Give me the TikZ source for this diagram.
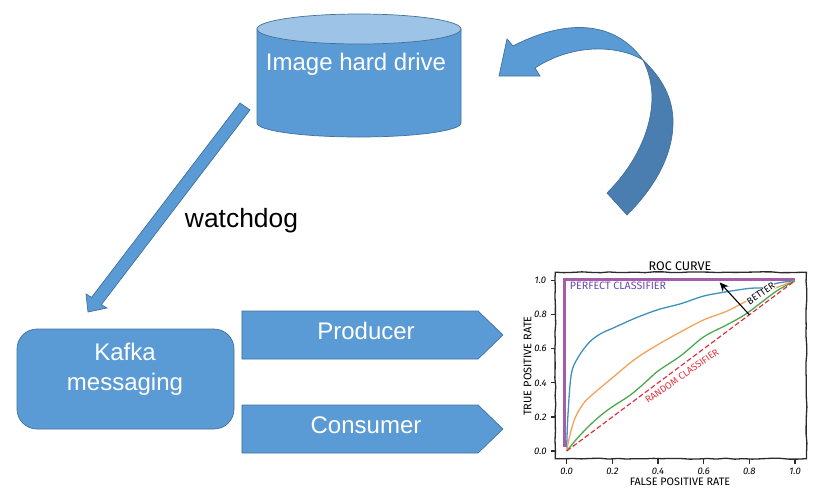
\documentclass[tikz,border=0pt]{standalone}
\usepackage{fontspec}
\setmainfont{Liberation Sans}
\newfontfamily\sketchfont{Fira Sans}
\usetikzlibrary{arrows.meta,shapes.symbols,decorations.pathmorphing}
\definecolor{boxblue}{HTML}{5B9BD5}
\definecolor{boxedge}{HTML}{41719C}
\definecolor{lidblue}{HTML}{9DC3E6}
\definecolor{darkblue}{HTML}{4A7DB0}
\definecolor{perfect}{HTML}{A45EA8}
\definecolor{perfecttext}{HTML}{6F45B5}
\definecolor{randomred}{HTML}{E2313F}
\definecolor{rocblue}{HTML}{3F8FBF}
\definecolor{rocorange}{HTML}{F4A25A}
\definecolor{rocgreen}{HTML}{4BA84F}
\definecolor{rocaxis}{HTML}{2A2A2A}
\tikzset{
	bluebox/.style={draw=boxedge,fill=boxblue,line width=0.7pt},
	boxtext/.style={text=white,font=\fontsize{24}{30}\selectfont,align=center,inner sep=0pt},
	tagbox/.style={bluebox,shape=signal,signal to=east,signal from=nowhere,signal pointer angle=88,minimum width=261,minimum height=48,inner sep=0pt},
	roctext/.style={font=\sketchfont\fontsize{9.5}{10}\selectfont,inner sep=0pt},
	roctick/.style={font=\sketchfont\itshape\fontsize{9.5}{10}\selectfont,inner sep=0pt},
	rocline/.style={line width=1.3pt,smooth,tension=0.55}
}

\begin{document}
\begin{tikzpicture}[x=1pt,y=-1pt]
	\useasboundingbox (0,0) rectangle (829,496);
	\draw[bluebox] (257,29) -- (257,123) arc[start angle=180,end angle=360,x radius=102pt,y radius=14pt] -- (461,29) -- cycle;
	\draw[bluebox,fill=lidblue] (359,29) ellipse[x radius=102pt,y radius=15pt];
	\node[boxtext](drivetext) at (356,64.5) {Image hard drive};
	\node[bluebox,rounded corners=20,minimum width=217,minimum height=100,inner sep=0pt](kafka) at (125.5,379) {};
	\node[boxtext](kafkatext) at (125,369.5) {Kafka\\messaging};
	\node[tagbox](producer) at (360,335) {};
	\node[boxtext](producertext) at (366,331) {Producer};
	\node[tagbox](consumer) at (360,429) {};
	\node[boxtext](consumertext) at (366,425) {Consumer};
	\node[font=\fontsize{26.4}{30}\selectfont,inner sep=0pt](watchdog) at (241.5,221) {watchdog};
	\draw[bluebox] (240,103) -- (250,110) -- (101.3,304.7) -- (107,308) -- (88,312) -- (86,294) -- (91.6,297.3) -- cycle;
	\draw[bluebox,fill=boxblue] (643,60) .. controls (620,46) and (575,42) .. (535,68) -- (540,76) -- (499,76) -- (507,39) -- (513,46) .. controls (555,24) and (610,14) .. (643,60) -- cycle;
	\draw[bluebox,fill=darkblue] (643,60) .. controls (662,78) and (673,98) .. (673,122) .. controls (673,155) and (655,187) .. (627,215) -- (607,193) .. controls (635,165) and (652,130) .. (652,97) .. controls (652,83) and (648,70) .. (643,60) -- cycle;
	\begin{scope}[shift={(566.7,451)},x=228.3pt,y=170.3pt]
		\draw[perfect,line width=3.3pt] (-0.01,0.025) -- (-0.01,1.008) -- (1,1.008);
		\draw[rocblue,rocline] plot coordinates {(0,0.02) (0.005,0.2) (0.02,0.45) (0.05,0.55) (0.1,0.64) (0.15,0.69) (0.2,0.72) (0.3,0.78) (0.4,0.83) (0.5,0.865) (0.6,0.91) (0.7,0.935) (0.8,0.955) (0.87,0.96) (0.92,0.985) (1,1)};
		\draw[rocorange,rocline] plot coordinates {(0,0) (0.01,0.07) (0.03,0.17) (0.05,0.23) (0.08,0.29) (0.12,0.34) (0.2,0.43) (0.3,0.54) (0.4,0.625) (0.5,0.70) (0.6,0.77) (0.7,0.82) (0.78,0.875) (0.85,0.92) (0.92,0.96) (1,1)};
		\draw[rocgreen,rocline] plot coordinates {(0,0) (0.05,0.08) (0.1,0.15) (0.15,0.21) (0.2,0.26) (0.28,0.33) (0.35,0.41) (0.4,0.47) (0.5,0.56) (0.6,0.67) (0.7,0.74) (0.78,0.80) (0.85,0.87) (0.92,0.94) (1,1)};
		\draw[randomred,line width=1.2pt,dash pattern=on 5pt off 2.5pt] (0,0) -- (1,1);
		\draw[rocaxis,line width=1.3pt,decorate,decoration={random steps,segment length=9pt,amplitude=0.5pt}] (-0.05,-0.045) rectangle (1.05,1.05);
		\foreach \t in {0.0,0.2,0.4,0.6,0.8,1.0}{
			\draw[rocaxis,line width=1.1pt] (-0.05,\t) -- ++(-4.5pt,0);
			\draw[rocaxis,line width=1.1pt] (\t,-0.045) -- ++(0,-5pt);
			\node[roctick](ytick\t) at (-0.115,\t) {\t};
			\node[roctick](xtick\t) at (\t,-0.12) {\t};
		}
		\node[roctext,fill=white,inner sep=0.5pt,rotate=34](better) at (0.85,0.925) {BETTER};
		\draw[-{Stealth[length=9pt,width=8pt]},line width=1.1pt,black] (0.8,0.8) -- (0.67,0.99);
	\end{scope}
	\node[roctext,font=\sketchfont\fontsize{12.5}{13}\selectfont](roctitle) at (680,266) {ROC CURVE};
	\node[roctext,text=perfecttext,font=\sketchfont\fontsize{10.7}{11}\selectfont](perfectlabel) at (618,285.5) {PERFECT CLASSIFIER};
	\node[roctext,text=randomred,rotate=35](randomlabel) at (682,376) {RANDOM CLASSIFIER};
	\node[roctext,font=\sketchfont\fontsize{10.8}{11}\selectfont](xlabel) at (680,481.5) {FALSE POSITIVE RATE};
	\node[roctext,rotate=90,font=\sketchfont\fontsize{11}{12}\selectfont](ylabel) at (527.7,366) {TRUE POSITIVE RATE};
\end{tikzpicture}
\end{document}
